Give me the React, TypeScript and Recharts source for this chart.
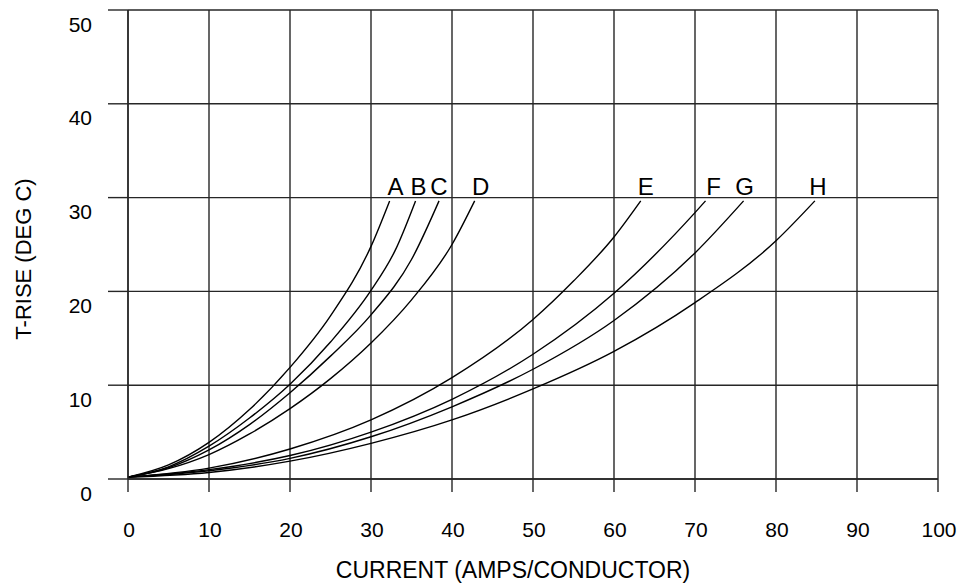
import { LineChart, Line, XAxis, YAxis, CartesianGrid, Label } from 'recharts';

// axis ticks
const currentTicks = [0, 10, 20, 30, 40, 50, 60, 70, 80, 90, 100];
const riseTicks = [0, 10, 20, 30, 40, 50];

// curves (current in amps, rise in deg C)
const currentA = [0, 5, 10, 15, 20, 25, 30, 32.3];
const riseA = [0.2, 1.5, 3.9, 7.4, 11.9, 17.4, 24.8, 29.65];

const currentB = [0, 5, 10, 15, 20, 25, 30, 33, 35.5];
const riseB = [0.2, 1.3, 3.5, 6.5, 10.1, 14.6, 20.1, 24.4, 29.65];

const currentC = [0, 5, 10, 15, 20, 25, 30, 35, 38.4];
const riseC = [0.2, 1.2, 3.1, 5.8, 9.2, 13.1, 17.5, 23.4, 29.65];

const currentD = [0, 5, 10, 15, 20, 25, 30, 35, 40, 42.8];
const riseD = [0.2, 1.1, 2.6, 4.8, 7.5, 10.7, 14.5, 19.1, 25.0, 29.65];

const currentE = [0, 10, 20, 30, 40, 50, 55, 60, 63.3];
const riseE = [0.2, 1.16, 3.2, 6.3, 10.8, 17.0, 21.1, 25.8, 29.65];

const currentF = [0, 10, 20, 30, 40, 50, 60, 70, 71.3];
const riseF = [0.2, 1.0, 2.5, 5.0, 8.5, 13.3, 19.8, 28.4, 29.65];

const currentG = [0, 10, 20, 30, 40, 50, 60, 70, 76];
const riseG = [0.2, 0.88, 2.2, 4.5, 7.7, 11.7, 16.9, 24.1, 29.65];

const currentH = [0, 10, 20, 30, 40, 50, 60, 70, 80, 84.8];
const riseH = [0.2, 0.7, 1.9, 3.8, 6.3, 9.6, 13.6, 18.8, 25.4, 29.65];

const curveNames = ['A', 'B', 'C', 'D', 'E', 'F', 'G', 'H'];
const curveCurrents = [currentA, currentB, currentC, currentD, currentE, currentF, currentG, currentH];
const curveRises = [riseA, riseB, riseC, riseD, riseE, riseF, riseG, riseH];

// small horizontal shift of each letter relative to its curve end
const labelNudge = [6, 3, 0, 6, 5, 8, 1, 3];

const FONT = '"Liberation Sans", Arial, Helvetica, sans-serif';
const GRID = '#262626';

const toPoints = (xs: number[], ys: number[]) =>
  xs.map((x, i) => ({ current: x, rise: ys[i] }));

const YTick = (props: any) => {
  const { x, y, payload } = props;
  return (
    <text x={x - 16} y={y + 21.5} textAnchor="end" fontSize={21} fontFamily={FONT} fill="#000">
      {payload.value}
    </text>
  );
};

const XTick = (props: any) => {
  const { x, y, payload } = props;
  return (
    <text x={x + 1} y={y + 44.5} textAnchor="middle" fontSize={21} fontFamily={FONT} fill="#000">
      {payload.value}
    </text>
  );
};

export default function App() {
  return (
    <div style={{ position: 'absolute', left: 0, top: 0, width: 962, height: 584, background: '#fff' }}>
      <LineChart width={962} height={584} margin={{ top: 10, right: 24, bottom: 45, left: 0 }}>
        <CartesianGrid stroke={GRID} strokeWidth={1.4} />
        <XAxis
          type="number"
          dataKey="current"
          domain={[0, 100]}
          ticks={currentTicks}
          interval={0}
          height={60}
          tickSize={13}
          tickMargin={0}
          stroke={GRID}
          tickLine={{ stroke: GRID, strokeWidth: 1.4 }}
          axisLine={{ stroke: GRID, strokeWidth: 1.4 }}
          tick={XTick}
        >
          <Label
            content={({ viewBox }: any) => (
              <text
                x={viewBox.x + viewBox.width / 2 - 20}
                y={viewBox.y + 99}
                textAnchor="middle"
                fontSize={23}
                fontFamily={FONT}
                fill="#000"
              >
                CURRENT (AMPS/CONDUCTOR)
              </text>
            )}
          />
        </XAxis>
        <YAxis
          type="number"
          domain={[0, 50]}
          ticks={riseTicks}
          interval={0}
          width={128}
          tickSize={20}
          tickMargin={0}
          stroke={GRID}
          tickLine={{ stroke: GRID, strokeWidth: 1.4 }}
          axisLine={{ stroke: GRID, strokeWidth: 1.4 }}
          tick={YTick}
        >
          <Label
            content={({ viewBox }: any) => {
              const cx = 31;
              const cy = viewBox.y + viewBox.height / 2 + 14.5;
              return (
                <text
                  x={cx}
                  y={cy}
                  transform={`rotate(-90, ${cx}, ${cy})`}
                  textAnchor="middle"
                  fontSize={22}
                  fontFamily={FONT}
                  fill="#000"
                >
                  T-RISE (DEG C)
                </text>
              );
            }}
          />
        </YAxis>
        {curveNames.map((name, k) => {
          const data = toPoints(curveCurrents[k], curveRises[k]);
          const last = data.length - 1;
          return (
            <Line
              key={name}
              data={data}
              dataKey="rise"
              type="monotone"
              stroke="#000"
              strokeWidth={1.4}
              dot={false}
              activeDot={false}
              isAnimationActive={false}
              label={(p: any) =>
                p.index === last ? (
                  <text
                    key={name}
                    x={p.x + labelNudge[k]}
                    y={p.y - 6}
                    textAnchor="middle"
                    fontSize={24}
                    fontFamily={FONT}
                    fill="#000"
                  >
                    {name}
                  </text>
                ) : (
                  <g key={`${name}-${p.index}`} />
                )
              }
            />
          );
        })}
      </LineChart>
    </div>
  );
}
